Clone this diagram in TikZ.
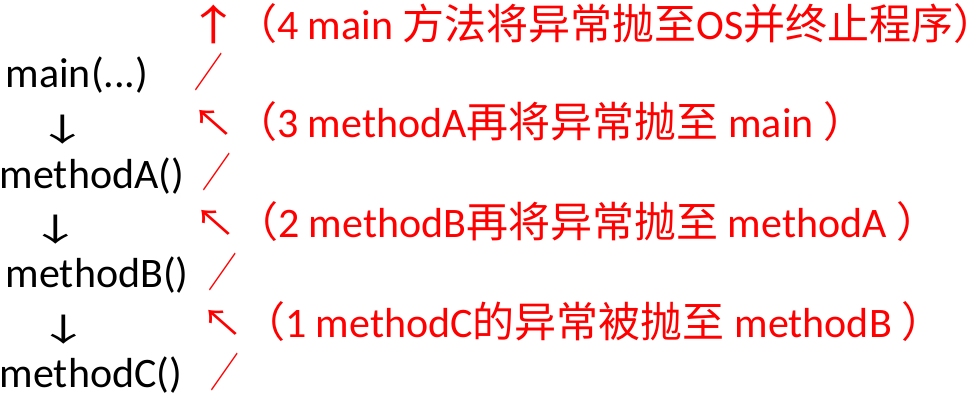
\documentclass[tikz,border=0pt]{standalone}
\usepackage{fontspec}
\setmainfont{Carlito}
\newfontfamily\cjk{Noto Sans CJK SC}
\usetikzlibrary{positioning}
\definecolor{throwred}{RGB}{255,0,0}
\tikzset{
  call/.style={anchor=base west, inner sep=0pt, font=\fontsize{42}{42}\selectfont},
  down/.style={call, anchor=base, font=\fontsize{42}{42}\selectfont\cjk},
  note/.style={call, text=throwred},
  up/.style={down, text=throwred},
}
% arrow and slash glyphs, reshaped to the reference's ones
\newcommand{\godown}{\makebox[1em]{\scalebox{1.3}[0.75]{↓}}}
\newcommand{\goup}{\makebox[1em]{\scalebox{1.3}[1]{↑}}}
\newcommand{\goback}{\makebox[1em]{\scalebox{1}[0.88]{↖}}}
\newcommand{\cutoff}{\makebox[1em]{\scalebox{0.68}[0.97]{／}}}

\begin{document}
\begin{tikzpicture}[x=1pt,y=-1pt]
  \useasboundingbox (0,0) rectangle (974,408);

  % CALL CHAIN
  \node[call] (main) at (5.5,87) {main(...)};
  \node[down] (downA) at (62.5,141) {\godown};
  \node[call] (methodA) at (-0.5,188) {methodA()};
  \node[down] (downB) at (56,241) {\godown};
  \node[call] (methodB) at (5.5,287) {methodB()};
  \node[down] (downC) at (64,341) {\godown};
  \node[call] (methodC) at (-0.5,387) {methodC()};

  % THROWS
  \node[up] (cutMain) at (208.5,87) {\cutoff};
  \node[up] (cutA) at (217,187) {\cutoff};
  \node[up] (cutB) at (223,287) {\cutoff};
  \node[up] (cutC) at (225,387) {\cutoff};

  \node[up] (upOS) at (214,40) {\goup};
  \node[up] (backMain) at (213.5,136) {\goback};
  \node[up] (backA) at (215.5,236) {\goback};
  \node[up] (backB) at (222.5,336) {\goback};

  \node[note] (noteFour) at (235,39) {{\cjk （}4 main {\cjk 方法将异常抛至}OS{\cjk 并终止程序）}};
  \node[note] (noteThree) at (235,137) {{\cjk （}3 methodA{\cjk 再将异常抛至} main {\cjk ）}};
  \node[note] (noteTwo) at (236,237) {{\cjk （}2 methodB{\cjk 再将异常抛至} methodA {\cjk ）}};
  \node[note] (noteOne) at (243,337) {{\cjk （}1 methodC{\cjk 的异常被抛至} methodB {\cjk ）}};
\end{tikzpicture}
\end{document}
